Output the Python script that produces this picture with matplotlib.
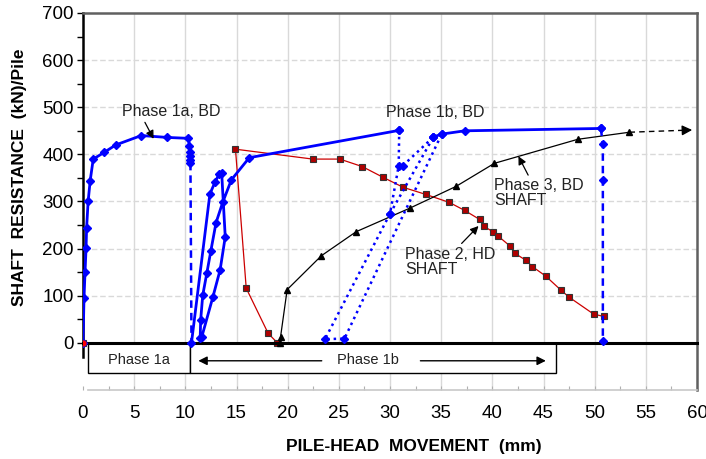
import matplotlib
matplotlib.use("Agg")
import matplotlib.pyplot as plt
from matplotlib.patches import Rectangle

plt.rcParams['font.family'] = ['Liberation Sans', 'DejaVu Sans']

# ---- data (mm, kN/pile) ----
p1a_x = [0.0, 0.1, 0.2, 0.3, 0.35, 0.5, 0.7, 1.0, 2.05, 3.2, 5.7, 8.2, 10.3, 10.4, 10.45, 10.5, 10.5, 10.5]
p1a_y = [0, 96, 151, 201, 243, 300, 344, 390, 404, 420, 440, 436, 434, 418, 405, 397, 389, 382]
p1a_drop_x = [10.5, 10.55, 10.6]
p1a_drop_y = [382, 190, 0]

p1b_x = [10.6, 12.4, 12.9, 13.3, 13.55, 13.9, 13.4, 12.7, 11.6, 11.45,
         11.5, 11.7, 12.1, 12.5, 13.0, 13.65, 14.5, 16.25, 30.9]
p1b_y = [0, 316, 341, 358, 361, 225, 155, 98, 12, 10,
         49, 101, 148, 196, 255, 298, 346, 393, 451]
p1b_dot1_x = [30.9, 30.85, 30.0, 23.65, 25.55, 35.05]
p1b_dot1_y = [451, 376, 274, 8, 9, 443]
p1b_dot2_x = [31.25, 34.25]
p1b_dot2_y = [376, 437]
p1b_dot3_x = [30.0, 34.25]
p1b_dot3_y = [274, 437]
p1b_end_x = [34.25, 35.05, 37.3, 50.6]
p1b_end_y = [437, 443, 450, 455]
p1b_drop_x = [50.6, 50.8, 50.8, 50.8]
p1b_drop_y = [455, 422, 346, 3]

hd_x = [0.0, 19.0, 18.1, 15.95, 14.9, 22.45, 25.1, 27.3, 29.35, 31.3, 33.5, 35.8, 37.3,
        38.75, 39.2, 40.05, 40.6, 41.7, 42.2, 43.3, 43.9, 45.2, 46.7, 47.5, 49.9, 50.9]
hd_y = [0, 0, 20, 116, 411, 390, 390, 374, 351, 330, 315, 298, 281,
        262, 247, 236, 226, 206, 190, 175, 162, 142, 112, 97, 61, 56]

p3_x = [19.25, 19.3, 19.95, 23.3, 26.7, 31.95, 36.45, 40.2, 48.35, 53.4]
p3_y = [0, 12, 113, 185, 236, 286, 332, 381, 432, 447]
p3_ext_x = [53.4, 59.8]
p3_ext_y = [447, 452]

BLUE = '#0000FF'
RED_LINE = '#CC0000'
RED_MK = '#B00000'

fig = plt.figure(figsize=(7.06, 4.59), dpi=100)
ax = fig.add_axes([83/706, (459-390)/459, (697-83)/706, (390-13)/459])
ax.set_xlim(0, 60)
ax.set_ylim(-100, 700)

# grid
for gx in range(5, 60, 5):
    ax.plot([gx, gx], [-100, 700], color='#d9d9d9', lw=1.0, zorder=0)
for gy in range(100, 700, 100):
    ax.plot([0, 60], [gy, gy], color='#d9d9d9', lw=1.0, ls=(0, (4, 2)), zorder=0)

# phase boxes
ax.add_patch(Rectangle((0.5, -63), 10.0, 63, facecolor='white', edgecolor='black', lw=1.0, zorder=1))
ax.add_patch(Rectangle((10.5, -63), 35.7, 63, facecolor='white', edgecolor='black', lw=1.0, zorder=1))
ax.text(5.5, -36, 'Phase 1a', ha='center', va='center', fontsize=10.5, color='#222222', zorder=2)
ax.text(27.8, -36, 'Phase 1b', ha='center', va='center', fontsize=10.5, color='#222222', zorder=2)
ax.annotate('', xy=(11.0, -38), xytext=(23.6, -38),
            arrowprops=dict(arrowstyle='-|>', color='black', lw=1.0, mutation_scale=13), zorder=2)
ax.annotate('', xy=(45.5, -38), xytext=(32.7, -38),
            arrowprops=dict(arrowstyle='-|>', color='black', lw=1.0, mutation_scale=13), zorder=2)

# zero line
ax.plot([0, 60], [0, 0], color='black', lw=2.2, zorder=3, clip_on=False)

# Phase 2 HD
ax.plot(hd_x, hd_y, color=RED_LINE, lw=0.9, marker='s', ms=4.5, mfc=RED_MK, mec='#333333',
        mew=0.8, zorder=2.5)

# Phase 3 BD
ax.plot(p3_x, p3_y, color='black', lw=0.9, marker='^', ms=5, zorder=4)
ax.plot([p3_ext_x[0], p3_ext_x[1] - 1.0], [p3_ext_y[0], p3_ext_y[1] - 0.8], color='black', lw=1.0,
        ls=(0, (4, 3)), zorder=4)
ax.annotate('', xy=(p3_ext_x[1], p3_ext_y[1]), xytext=(p3_ext_x[1] - 1.2, p3_ext_y[1] - 1),
            arrowprops=dict(arrowstyle='-|>', color='black', lw=1.0, mutation_scale=15), zorder=4)

# Phase 1a BD
bd = dict(color=BLUE, marker='D', ms=3.8, zorder=5)
ax.plot(p1a_x, p1a_y, lw=2.0, **bd)
ax.plot(p1a_drop_x, p1a_drop_y, lw=1.8, ls=(0, (3, 2)), color=BLUE, zorder=5)

# Phase 1b BD
ax.plot(p1b_x, p1b_y, lw=2.0, **bd)
for xs, ys in [(p1b_dot1_x, p1b_dot1_y), (p1b_dot2_x, p1b_dot2_y), (p1b_dot3_x, p1b_dot3_y)]:
    ax.plot(xs, ys, lw=1.8, ls=(0, (1, 1.6)), **bd)
ax.plot(p1b_end_x, p1b_end_y, lw=2.0, **bd)
ax.plot(p1b_drop_x, p1b_drop_y, lw=1.8, ls=(0, (3, 2)), **bd)

ax.plot([0], [0], marker='o', ms=3.5, color='red', zorder=6)

# annotations
akw = dict(arrowstyle='-|>', color='black', lw=0.9, mutation_scale=12, shrinkA=0, shrinkB=0)
tkw = dict(fontsize=11.5, color='#222222', linespacing=0.95)
ax.text(8.6, 490, 'Phase 1a, BD', ha='center', va='center', **tkw)
ax.annotate('', xy=(6.9, 433), xytext=(6.05, 468), arrowprops=akw, zorder=7)
ax.text(34.4, 488, 'Phase 1b, BD', ha='center', va='center', **tkw)
ax.text(40.2, 318, 'Phase 3, BD\nSHAFT', ha='left', va='center', **tkw)
ax.annotate('', xy=(42.55, 396), xytext=(43.5, 356), arrowprops=akw, zorder=7)
ax.text(31.5, 172, 'Phase 2, HD\nSHAFT', ha='left', va='center', **tkw)
ax.annotate('', xy=(38.65, 248), xytext=(37.0, 211), arrowprops=akw, zorder=7)

# axes styling
ax.spines['left'].set_bounds(-30, 700)
ax.spines['left'].set_linewidth(1.8)
ax.spines['left'].set_color('black')
ax.spines['right'].set_linewidth(1.8)
ax.spines['right'].set_color('#606060')
ax.spines['top'].set_linewidth(1.8)
ax.spines['top'].set_color('#606060')
ax.spines['bottom'].set_bounds(0.5, 60)
ax.spines['bottom'].set_linewidth(1.2)
ax.spines['bottom'].set_color('#c8c8c8')

ax.set_yticks(range(0, 701, 100))
ax.set_yticks(range(50, 700, 100), minor=True)
ax.set_xticks(range(0, 61, 5))
ax.set_xticks([x + 2.5 for x in range(0, 60, 5)], minor=True)
ax.tick_params(axis='y', which='both', direction='out', length=4.5, width=1.0, labelsize=13.5, pad=2)
ax.tick_params(axis='x', which='both', direction='in', length=3, width=0.8, color='#b0b0b0',
               labelsize=13.5, pad=11)

fig.text(20/706, 1 - 177/459, 'SHAFT  RESISTANCE  (kN)/Pile', rotation=90, ha='center', va='center',
         fontsize=12.5, fontweight='bold')
fig.text(414/706, 1 - 447/459, 'PILE-HEAD  MOVEMENT  (mm)', ha='center', va='center',
         fontsize=12.5, fontweight='bold')

fig.savefig('out.png', dpi=100)
